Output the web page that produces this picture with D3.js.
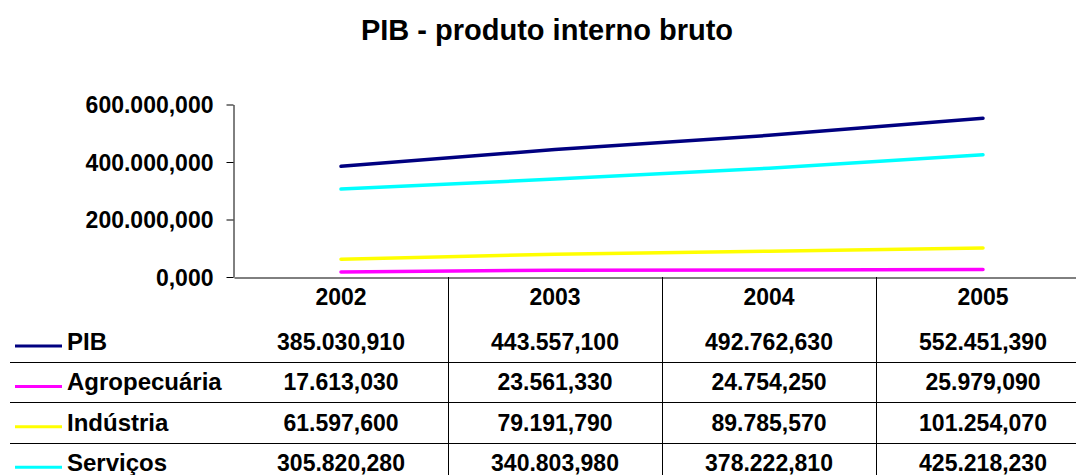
<!DOCTYPE html>
<html>
<head>
<meta charset="utf-8">
<script src="https://cdn.jsdelivr.net/npm/d3@7"></script>
<style>
  body { margin: 0; background: #ffffff; }
  svg { display: block; font-family: "Liberation Sans", Arial, sans-serif; font-weight: bold; }
</style>
</head>
<body>
<script>
// anos e series (valores em milhares, formato pt-BR)
var years = ["2002", "2003", "2004", "2005"];
var seriesNames = ["PIB", "Agropecuária", "Indústria", "Serviços"];
var seriesColors = ["#000080", "#ff00ff", "#ffff00", "#00ffff"];
var pib = [385030.910, 443557.100, 492762.630, 552451.390];
var agro = [17613.030, 23561.330, 24754.250, 25979.090];
var industria = [61597.600, 79191.790, 89785.570, 101254.070];
var servicos = [305820.280, 340803.980, 378222.810, 425218.230];
var yTicks = [0, 200000, 400000, 600000];

var seriesValues = [pib, agro, industria, servicos];

var br = d3.formatLocale({decimal: ",", thousands: ".", grouping: [3], currency: ["R$", ""]});
var fmt = br.format(",.3f");

var width = 1076, height = 475;

var svg = d3.select('body')
  .append('svg')
  .attr('width', width)
  .attr('height', height);

// titulo
svg.append('text')
  .attr('x', 547)
  .attr('y', 40)
  .attr('text-anchor', 'middle')
  .style('font-size', '29px')
  .text('PIB - produto interno bruto');

var x = d3.scaleBand()
  .domain(years)
  .range([234, 1090]);

var y = d3.scaleLinear()
  .domain([0, 600000])
  .range([277, 104.5]);

// eixo y
var yAxis = svg.append('g')
  .attr('transform', 'translate(233.5,0)')
  .call(d3.axisLeft(y)
    .tickValues(yTicks)
    .tickSize(7)
    .tickSizeOuter(0)
    .tickPadding(13)
    .tickFormat(fmt));

yAxis.selectAll('text')
  .style('font-size', '23px')
  .style('font-family', '"Liberation Sans", Arial, sans-serif')
  .attr('fill', '#000')
  .attr('dy', '0.36em');
yAxis.select('.domain').attr('stroke', '#000');
yAxis.selectAll('line').attr('stroke', '#000');

// eixo x (cabecalho da tabela)
var xAxis = svg.append('g')
  .attr('transform', 'translate(0,277.5)')
  .call(d3.axisBottom(x)
    .tickSize(0)
    .tickSizeOuter(0)
    .tickPadding(11));

xAxis.selectAll('text')
  .style('font-size', '23px')
  .style('font-family', '"Liberation Sans", Arial, sans-serif')
  .attr('fill', '#000');
xAxis.select('.domain').attr('stroke', '#000');

// linhas das series
var line = d3.line()
  .x(function(d, i) { return x(years[i]) + x.bandwidth() / 2; })
  .y(function(d) { return y(d); });

svg.selectAll('.serie')
  .data(seriesValues)
  .enter()
  .append('path')
  .attr('class', 'serie')
  .attr('fill', 'none')
  .attr('stroke', function(d, i) { return seriesColors[i]; })
  .attr('stroke-width', 3.5)
  .attr('stroke-linecap', 'round')
  .attr('d', line);

// tabela de dados
var rowH = 40.4;
var rowTop = 321.6;

// linhas horizontais
svg.selectAll('.hline')
  .data(d3.range(1, seriesNames.length))
  .enter()
  .append('line')
  .attr('class', 'hline')
  .attr('x1', 10)
  .attr('x2', width)
  .attr('y1', function(d) { return Math.round(rowTop + d * rowH) + 0.5; })
  .attr('y2', function(d) { return Math.round(rowTop + d * rowH) + 0.5; })
  .attr('stroke', '#000');

// linhas verticais
svg.selectAll('.vline')
  .data(years.slice(1))
  .enter()
  .append('line')
  .attr('class', 'vline')
  .attr('x1', function(d) { return Math.round(x(d)) + 0.5; })
  .attr('x2', function(d) { return Math.round(x(d)) + 0.5; })
  .attr('y1', 277)
  .attr('y2', height)
  .attr('stroke', '#000');

var rows = svg.selectAll('.row')
  .data(seriesNames)
  .enter()
  .append('g')
  .attr('class', 'row')
  .attr('transform', function(d, i) {
    return 'translate(0,' + (rowTop + (i + 1) * rowH - 12) + ')';
  });

// legenda
rows.append('line')
  .attr('x1', 15)
  .attr('x2', 62)
  .attr('y1', -4)
  .attr('y2', -4)
  .attr('stroke', function(d, i) { return seriesColors[i]; })
  .attr('stroke-width', 3);

rows.append('text')
  .attr('x', 67)
  .attr('y', 0)
  .style('font-size', '24px')
  .text(function(d) { return d; });

// valores
rows.selectAll('.val')
  .data(function(d, i) { return seriesValues[i]; })
  .enter()
  .append('text')
  .attr('class', 'val')
  .attr('x', function(d, j) { return x(years[j]) + x.bandwidth() / 2; })
  .attr('y', 0)
  .attr('text-anchor', 'middle')
  .style('font-size', '23px')
  .text(function(d) { return fmt(d); });
</script>
</body>
</html>
